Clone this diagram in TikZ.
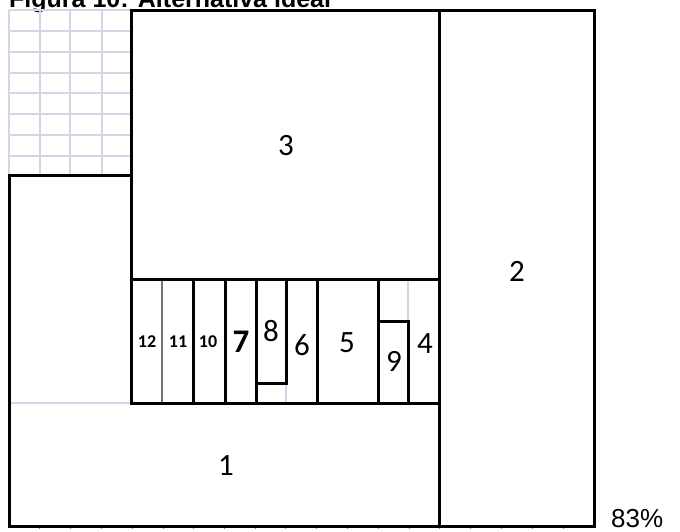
\documentclass[tikz,border=0pt]{standalone}
\usepackage{fontspec}
\setmainfont{Carlito}
\newfontfamily\arialfont{Liberation Sans}
\begin{document}
\begin{tikzpicture}[x=1pt,y=-1pt,
  wall/.style={line width=3pt,black,line cap=rect},
  gridline/.style={line width=2.2pt,color=gridblue},
  thin/.style={line width=1.8pt,color=black!55},
  tick/.style={line width=0.7pt,color=black!50},
  big/.style={font=\fontsize{31}{31}\selectfont,inner sep=0pt},
  small/.style={font=\bfseries\fontsize{18}{18}\selectfont,inner sep=0pt}]
\definecolor{gridblue}{RGB}{208,216,232}
\useasboundingbox (0,0) rectangle (680,531);
\clip (0,0) rectangle (680,531);
% title
\node[anchor=base west,inner sep=0pt,font=\arialfont\bfseries\fontsize{25}{25}\selectfont] (title) at (9,7) {Figura 10: Alternativa ideal};
% grid
\foreach \yy in {10,30.7,51.7,72.7,93.3,114,135,155.7} \draw[gridline] (9,\yy) -- (131,\yy);
\foreach \xx in {9,40.3,70.3,101.7} \draw[gridline] (\xx,10) -- (\xx,175);
\draw[gridline] (9,403) -- (131,403);
% bottom ticks
\foreach \xx in {39,70,101,132,163,193,224,255,285,316,347,378,409,439,470,501,532,563} \draw[tick] (\xx,526) -- (\xx,529);
% coordinates
\coordinate (tl3) at (131,10);
\coordinate (tr3) at (439,10);
\coordinate (tr2) at (594,10);
\coordinate (br2) at (594,526);
\coordinate (bl1) at (9,526);
\coordinate (gl) at (9,175);
\coordinate (gr) at (131,175);
% light lines inside strip
\draw[gridline] (286,383) -- (286,403);
\draw[gridline] (408,279) -- (408,321);
\draw[thin] (162,279) -- (162,403);
% walls
\draw[wall] (tl3) -- (tr2) -- (br2) -- (bl1) -- (gl) -- (gr);
\draw[wall] (tl3) -- (131,403) -- (439,403);
\draw[wall] (tr3) -- (439,526);
\draw[wall] (131,279) -- (439,279);
\foreach \xx in {193,225,317,378} \draw[wall] (\xx,279) -- (\xx,403);
\draw[wall] (256,279) -- (256,403);
\draw[wall] (286,279) -- (286,383) -- (256,383);
\draw[wall] (378,321) -- (408,321) -- (408,403);
% labels
\node[big] (n3) at (286,146) {3};
\node[big] (n2) at (517,271) {2};
\node[big] (n1) at (226,466) {1};
\node[small] (n12) at (147,342) {12};
\node[small] (n11) at (178,342) {11};
\node[small] (n10) at (208,342) {10};
\node[big,font=\bfseries\fontsize{33}{33}\selectfont] (n7) at (241,342) {7};
\node[big] (n8) at (271,331) {8};
\node[big] (n6) at (302,345) {6};
\node[big] (n5) at (347,343) {5};
\node[big] (n9) at (394,361) {9};
\node[big] (n4) at (425,344) {4};
\node[anchor=base west,inner sep=0pt,font=\arialfont\fontsize{26}{26}\selectfont] (pct) at (611,527) {83\%};
\end{tikzpicture}
\end{document}
